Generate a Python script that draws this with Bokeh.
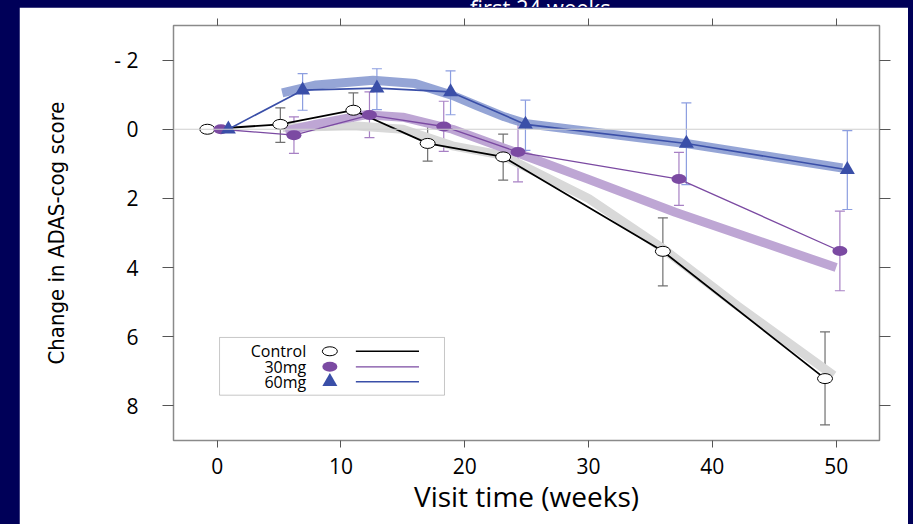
from bokeh.plotting import figure
from bokeh.models import (Range1d, FixedTicker, LinearAxis, Span, Whisker,
                          ColumnDataSource, TeeHead, Div, BoxAnnotation, Label)
from bokeh.layouts import column
from bokeh.embed import file_html
from bokeh.resources import INLINE

# ---------------- data ----------------
title_text = "first 24 weeks"
x_ticks = [0, 10, 20, 30, 40, 50]
y_ticks = [-2, 0, 2, 4, 6, 8]
y_tick_labels = {-2: "- 2"}

series_names = ["Control", "30mg", "60mg"]

ctrl_week = [-0.8, 5.1, 11.0, 17.0, 23.1, 36.0, 49.1]
ctrl_mean = [0.0, -0.14, -0.55, 0.41, 0.80, 3.53, 7.21]
ctrl_lo = [0.0, -0.62, -1.05, -0.12, 0.14, 2.56, 5.86]
ctrl_hi = [0.0, 0.38, -0.05, 0.92, 1.47, 4.53, 8.55]

mg30_week = [0.3, 6.2, 12.3, 18.3, 24.3, 37.3, 50.3]
mg30_mean = [0.0, 0.17, -0.41, -0.08, 0.66, 1.44, 3.52]
mg30_lo = [0.0, -0.36, -1.08, -0.81, -0.20, 0.67, 2.37]
mg30_hi = [0.0, 0.70, 0.24, 0.64, 1.52, 2.20, 4.67]

mg60_week = [0.9, 6.9, 12.9, 18.85, 24.9, 37.9, 50.9]
mg60_mean = [0.0, -1.13, -1.19, -1.08, -0.14, 0.41, 1.17]
mg60_lo = [0.0, -1.61, -1.75, -1.69, -0.84, -0.76, 0.04]
mg60_hi = [0.0, -0.55, -0.57, -0.42, 0.61, 1.60, 2.32]

# model fits (thick bands)
ctrl_fit_week = [5.3, 11.0, 15.0, 19.0, 23.0, 30.0, 36.0, 42.0, 49.8]
ctrl_fit_val = [-0.05, -0.10, 0.00, 0.48, 0.75, 2.00, 3.45, 5.10, 7.12]
mg30_fit_week = [5.5, 8.0, 12.0, 15.0, 19.0, 24.0, 30.0, 37.0, 50.0]
mg30_fit_val = [0.05, -0.15, -0.42, -0.35, 0.0, 0.65, 1.45, 2.40, 4.00]
mg60_fit_week = [5.25, 8.0, 12.6, 16.0, 19.0, 21.0, 23.2, 25.0, 38.0, 50.5]
mg60_fit_val = [-1.05, -1.28, -1.42, -1.32, -0.98, -0.68, -0.36, -0.16, 0.42, 1.12]

# ---------------- styles ----------------
NAVY = "#000058"
C_CTRL, C_30, C_60 = "#000000", "#7b4aa2", "#3a4fa8"
C_CTRL_FIT, C_30_FIT, C_60_FIT = "#d9d9d9", "#bea6d4", "#8a9bd2"
C_CTRL_ERR, C_30_ERR, C_60_ERR = "#707070", "#a780c4", "#8c9ee0"
TICK_FONT = "Open Sans"
COND_FONT = "Liberation Sans Narrow, DejaVu Sans Condensed, Roboto Condensed, Roboto"

p = figure(frame_width=706, frame_height=415,
           x_range=Range1d(-3.53, 53.5), y_range=Range1d(9, -3),
           output_backend="svg", toolbar_location=None,
           min_border_left=154, min_border_right=29,
           min_border_top=18, min_border_bottom=84,
           background_fill_color="white", border_fill_color="white",
           margin=(0, 0, 0, 19))
p.outline_line_color = "#8a8a8a"
p.outline_line_width = 1.5
p.xgrid.visible = False
p.ygrid.visible = False

def style_axis(ax, ticks, tick_out, labels=True):
    ax.ticker = FixedTicker(ticks=ticks)
    ax.axis_line_color = None
    ax.major_tick_line_color = "#555555"
    ax.major_tick_line_width = 1
    ax.major_tick_out = tick_out
    ax.major_tick_in = 0
    ax.minor_tick_line_color = None
    ax.major_label_text_font = TICK_FONT
    ax.major_label_text_font_size = "21px"
    ax.major_label_text_color = "black"
    if not labels:
        ax.major_label_text_font_size = "0px"
        ax.major_label_text_color = None
        ax.major_label_standoff = 0

xa = p.xaxis[0]
style_axis(xa, x_ticks, 7)
xa.major_label_standoff = 10
xa.axis_label = "Visit time (weeks)"
xa.axis_label_text_font = "Open Sans"
xa.axis_label_text_font_size = "28px"
xa.axis_label_text_font_style = "normal"
xa.axis_label_text_color = "black"
xa.axis_label_standoff = 0

ya = p.yaxis[0]
style_axis(ya, y_ticks, 11)
ya.major_label_standoff = 24
ya.major_label_overrides = y_tick_labels
ya.axis_label = "Change in ADAS-cog score"
ya.axis_label_text_font = COND_FONT
ya.axis_label_text_font_size = "22px"
ya.axis_label_text_font_style = "normal"
ya.axis_label_text_color = "black"
ya.axis_label_standoff = 42

top_ax = LinearAxis()
style_axis(top_ax, x_ticks, 7, labels=False)
p.add_layout(top_ax, "above")
right_ax = LinearAxis()
style_axis(right_ax, y_ticks, 11, labels=False)
p.add_layout(right_ax, "right")

p.add_layout(Span(location=0, dimension="width", line_color="#cfcfcf", line_width=1))

# fits
p.line(ctrl_fit_week, ctrl_fit_val, line_width=9, line_color=C_CTRL_FIT, line_join="round")
p.line(mg30_fit_week, mg30_fit_val, line_width=9, line_color=C_30_FIT, line_join="round")
p.line(mg60_fit_week, mg60_fit_val, line_width=9, line_color=C_60_FIT, line_alpha=0.9, line_join="round")

# error bars (baseline visit has none)
for wk, lo, hi, col in [(ctrl_week, ctrl_lo, ctrl_hi, C_CTRL_ERR),
                        (mg30_week, mg30_lo, mg30_hi, C_30_ERR),
                        (mg60_week, mg60_lo, mg60_hi, C_60_ERR)]:
    src = ColumnDataSource(dict(x=wk[1:], lo=lo[1:], hi=hi[1:]))
    w = Whisker(source=src, base="x", lower="lo", upper="hi", dimension="height",
                line_color=col, line_width=1.2,
                upper_head=TeeHead(size=10, line_color=col, line_width=1.2),
                lower_head=TeeHead(size=10, line_color=col, line_width=1.2))
    p.add_layout(w)

# connecting lines
p.line(ctrl_week, ctrl_mean, line_color=C_CTRL, line_width=1.8)
p.line(mg30_week, mg30_mean, line_color=C_30, line_width=1.3)
p.line(mg60_week, mg60_mean, line_color=C_60, line_width=1.6)

# markers
p.ellipse(ctrl_week, ctrl_mean, width=15, height=10, width_units="screen", height_units="screen",
          fill_color="white", line_color="black", line_width=1)
p.ellipse(mg30_week, mg30_mean, width=15, height=10, width_units="screen", height_units="screen",
          fill_color=C_30, line_color=None)
p.scatter(mg60_week, mg60_mean, marker="triangle", size=15, fill_color=C_60, line_color=None)

# ---------------- legend (layout constants, data units) ----------------
LEG_BOX = dict(left=0.19, right=18.36, top=6.02, bottom=7.69)
LEG_TEXT_X, LEG_MARK_X, LEG_LINE_X0, LEG_LINE_X1 = 7.19, 9.1, 11.2, 16.3
LEG_ROWS = [6.42, 6.87, 7.30]
p.add_layout(BoxAnnotation(**LEG_BOX, fill_color="white", fill_alpha=1,
                           line_color="#444444", line_width=1))
for name, yy in zip(series_names, LEG_ROWS):
    p.add_layout(Label(x=LEG_TEXT_X, y=yy, text=name, text_align="right",
                       text_baseline="middle", text_font="Open Sans",
                       text_font_size="16px", text_color="black"))
r = p.ellipse([LEG_MARK_X], [LEG_ROWS[0]], width=15, height=9, width_units="screen",
              height_units="screen", fill_color="white", line_color="black", line_width=1)
r.level = "overlay"
r = p.ellipse([LEG_MARK_X], [LEG_ROWS[1]], width=15, height=10, width_units="screen",
              height_units="screen", fill_color=C_30, line_color=None)
r.level = "overlay"
r = p.scatter([LEG_MARK_X], [LEG_ROWS[2]], marker="triangle", size=15, fill_color=C_60, line_color=None)
r.level = "overlay"
for yy, col, lw in zip(LEG_ROWS, [C_CTRL, C_30, C_60], [1.6, 1.2, 1.4]):
    r = p.segment([LEG_LINE_X0], [yy], [LEG_LINE_X1], [yy], line_color=col, line_width=lw)
    r.level = "overlay"

title_div = Div(text=('<div style="position:relative;top:-8px;left:451px;color:white;'
                      'font:22px \'Open Sans\';white-space:nowrap;">' + title_text + '</div>'),
                width=889, height=7, margin=(0, 0, 0, 19),
                styles={"overflow": "hidden"})

layout = column(title_div, p, spacing=0)

html = file_html(layout, INLINE, title="ADAS-cog")
html = html.replace("</head>",
                    "<style>html,body{margin:0;padding:0;background:" + NAVY +
                    ";overflow:hidden;}</style></head>", 1)
with open("out.html", "w") as f:
    f.write(html)
